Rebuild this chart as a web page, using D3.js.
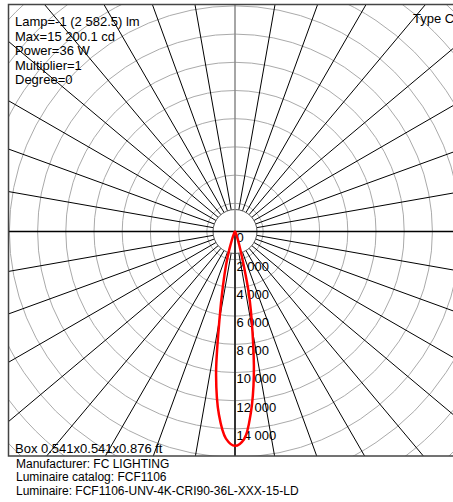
<!DOCTYPE html>
<html>
<head>
<meta charset="utf-8">
<script src="https://cdn.jsdelivr.net/npm/d3@7"></script>
<style>
  html, body { margin: 0; padding: 0; background: #fff; }
  svg { display: block; font-family: "Liberation Sans", Arial, sans-serif; }
</style>
</head>
<body>
<svg id="chart" width="453" height="502"></svg>
<script>
// ---- data ----
const gammaAngles = [0, 2.5, 5, 7.5, 10, 12.5, 15, 17.5, 20, 22.5, 25, 30, 35, 40, 45, 50, 60, 70, 80, 90];
const c0Values   = [15200, 14750, 12900, 10250, 7100, 4600, 2050, 1000, 500, 250, 130, 60, 30, 15, 10, 5, 0, 0, 0, 0];
const c180Values = [15200, 14700, 13050, 10280, 6350, 3950, 2450, 1350, 680, 340, 170, 70, 30, 15, 10, 5, 0, 0, 0, 0];
const ringValues = [2000, 4000, 6000, 8000, 10000, 12000, 14000, 16000, 18000, 20000, 22000, 24000];
const labelValues = [0, 2000, 4000, 6000, 8000, 10000, 12000, 14000];
const spokeAngles = d3.range(0, 360, 10);
const infoLines = ["Lamp=-1 (2 582.5) lm", "Max=15 200.1 cd", "Power=36 W", "Multiplier=1", "Degree=0"];
const typeLabel = "Type C";
const boxLabel = "Box 0.541x0.541x0.876 ft";
const footerLines = ["Manufacturer: FC LIGHTING", "Luminaire catalog: FCF1106", "Luminaire: FCF1106-UNV-4K-CRI90-36L-XXX-15-LD"];

// ---- layout ----
const W = 453, H = 502;
const cx = 235, cy = 231.5;
const frame = {x: 8.5, y: 4.5, w: 470, h: 451.5};
const svg = d3.select("#chart");

const r = d3.scaleLinear().domain([0, 2000]).range([0, 28.2]);
const fmt = d3.formatLocale({decimal: ".", thousands: " ", grouping: [3], currency: ["", ""]}).format(",d");

svg.append("defs").append("clipPath").attr("id", "clip")
  .append("rect").attr("x", frame.x).attr("y", frame.y).attr("width", frame.w).attr("height", frame.h);

const g = svg.append("g").attr("clip-path", "url(#clip)");
const c = g.append("g").attr("transform", `translate(${cx},${cy})`);

// rings
c.selectAll("circle.ring").data(ringValues).join("circle")
  .attr("class", "ring").attr("r", d => r(d))
  .attr("fill", "none").attr("stroke", "#aaaaaa").attr("stroke-width", 1);

// spokes (excluding vertical and horizontal)
const innerR = 22, outerR = 600;
c.selectAll("line.spoke").data(spokeAngles.filter(a => a % 90 !== 0)).join("line")
  .attr("class", "spoke")
  .attr("x1", a => innerR * Math.sin(a * Math.PI / 180))
  .attr("y1", a => -innerR * Math.cos(a * Math.PI / 180))
  .attr("x2", a => outerR * Math.sin(a * Math.PI / 180))
  .attr("y2", a => -outerR * Math.cos(a * Math.PI / 180))
  .attr("stroke", "#000").attr("stroke-width", 1);

// inner circle
c.append("circle").attr("r", innerR).attr("fill", "#fff").attr("stroke", "#555").attr("stroke-width", 1);

// horizontal axis
c.append("line").attr("x1", -600).attr("x2", 600).attr("y1", 0).attr("y2", 0)
  .attr("stroke", "#000").attr("stroke-width", 1.5);
// vertical axis: upper gray, lower dark
c.append("line").attr("x1", 0).attr("x2", 0).attr("y1", -600).attr("y2", 0)
  .attr("stroke", "#888").attr("stroke-width", 1.5);
c.append("line").attr("x1", 0).attr("x2", 0).attr("y1", 0).attr("y2", 600)
  .attr("stroke", "#333").attr("stroke-width", 2);

// value labels
c.selectAll("text.val").data(labelValues).join("text")
  .attr("class", "val")
  .attr("x", 1.5).attr("y", d => r(d) + 10.8)
  .attr("font-size", 13).attr("fill", "#000")
  .text(d => fmt(d));

// intensity curve
const pts = [];
gammaAngles.forEach((gm, i) => pts.push({a: Math.PI - gm * Math.PI / 180, v: c0Values[i]}));
for (let i = gammaAngles.length - 1; i >= 1; i--) pts.push({a: Math.PI + gammaAngles[i] * Math.PI / 180, v: c180Values[i]});
const curvePts = pts.filter(p => p.v > 0);
const line = d3.lineRadial().angle(p => p.a).radius(p => r(p.v)).curve(d3.curveCatmullRomClosed.alpha(0.5));
c.append("path").attr("d", line(curvePts))
  .attr("fill", "none").attr("stroke", "#ff0000").attr("stroke-width", 2.5).attr("stroke-linejoin", "round");

// frame
svg.append("rect").attr("x", frame.x).attr("y", frame.y).attr("width", frame.w).attr("height", frame.h)
  .attr("fill", "none").attr("stroke", "#444").attr("stroke-width", 1.5);

// info text
svg.selectAll("text.info").data(infoLines).join("text")
  .attr("class", "info").attr("x", 15).attr("y", (d, i) => 26 + i * 14.6)
  .attr("font-size", 13).attr("fill", "#000").text(d => d);

svg.append("text").attr("x", 413).attr("y", 23).attr("font-size", 13).attr("fill", "#000").text(typeLabel);
svg.append("text").attr("x", 15).attr("y", 452.5).attr("font-size", 13).attr("fill", "#000").text(boxLabel);

svg.selectAll("text.foot").data(footerLines).join("text")
  .attr("class", "foot").attr("x", 16).attr("y", (d, i) => 467.5 + i * 13.5)
  .attr("font-size", 12).attr("fill", "#000").text(d => d);
</script>
</body>
</html>
